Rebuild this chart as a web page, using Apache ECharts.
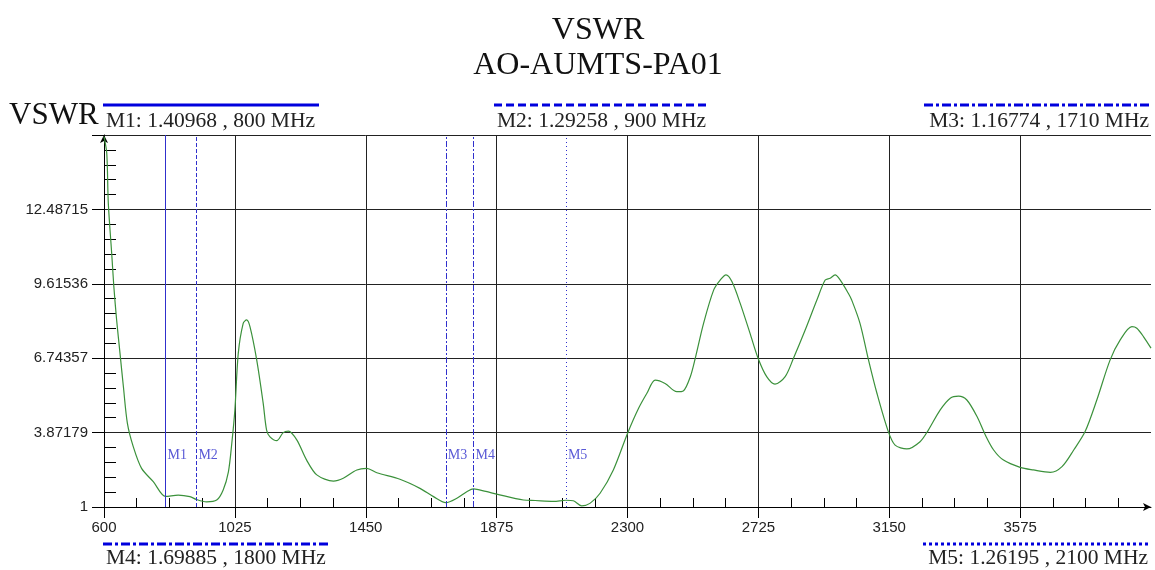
<!DOCTYPE html>
<html><head><meta charset="utf-8">
<script src="https://cdn.jsdelivr.net/npm/echarts@6/dist/echarts.min.js"></script>
<style>html,body{margin:0;padding:0;background:#fff}#c{width:1155px;height:570px}</style>
</head><body><div id="c"></div>
<script>
const titleLines = ['VSWR', 'AO-AUMTS-PA01'];
const yAxisName = 'VSWR';

const freqs = [600,609,614,625,632,641,652,663,676,695,722,760,800,841,879,900,933,966,987,1004,1015,1025,1036,1052,1063,1074,1096,1117,1128,1139,1161,1182,1199,1226,1258,1291,1345,1377,1421,1453,1486,1561,1626,1670,1710,1746,1778,1800,1840,1875,1962,2000,2060,2100,2124,2151,2178,2211,2254,2300,2336,2363,2390,2422,2460,2482,2504,2520,2547,2580,2601,2620,2639,2666,2698,2725,2752,2779,2812,2839,2877,2915,2942,2958,2974,2991,3017,3028,3055,3082,3110,3147,3169,3207,3250,3277,3315,3348,3375,3402,3435,3462,3489,3521,3575,3618,3673,3711,3749,3786,3824,3867,3900,3938,3954,3976,4000];
const vswr = [15.30,14.65,12.72,10.79,9.50,8.22,6.93,5.64,4.23,3.33,2.49,1.98,1.41,1.46,1.40,1.29,1.20,1.27,1.66,2.36,3.46,4.74,6.93,8.09,8.22,7.96,6.67,5.00,3.97,3.71,3.56,3.87,3.93,3.59,2.81,2.24,2.00,2.11,2.43,2.49,2.32,2.07,1.72,1.40,1.17,1.34,1.59,1.70,1.60,1.50,1.27,1.25,1.22,1.26,1.24,1.04,1.14,1.53,2.43,3.84,4.81,5.39,5.90,5.77,5.45,5.49,6.03,6.74,8.09,9.38,9.76,9.96,9.70,8.86,7.70,6.71,6.03,5.74,6.03,6.74,7.83,8.99,9.76,9.83,9.96,9.76,9.25,8.99,8.09,6.71,5.39,3.91,3.39,3.24,3.52,3.97,4.74,5.20,5.28,5.13,4.49,3.78,3.20,2.81,2.53,2.43,2.34,2.56,3.20,3.91,5.13,6.67,7.45,7.96,7.90,7.57,7.13];

const xMin = 600, xMax = 4000, xInterval = 425;
const yMin = 1, yInterval = 2.87179, ySplits = 5;
const yTickLabels = ['1', '3.87179', '6.74357', '9.61536', '12.48715', ''];

const markerNames = ['M1', 'M2', 'M3', 'M4', 'M5'];
const markerFreqs = [800, 900, 1710, 1800, 2100];
const markerValues = ['1.40968', '1.29258', '1.16774', '1.69885', '1.26195'];
const markerLabelLevel = 3.0;

const yMax = yMin + ySplits * yInterval;
const markerDash = ['solid', [4, 2], [6, 2, 2, 2], [6, 2, 2, 2], [1, 3]];
const legendDash = [null, [8, 4], [9, 3, 3, 3], [9, 3, 3, 3], [3, 3]];
const legendText = i => markerNames[i] + ': ' + markerValues[i] + ' , ' + markerFreqs[i] + ' MHz';
const serif = '"Liberation Serif", "Times New Roman", serif';
const sans = '"Liberation Sans", Arial, sans-serif';
const blue = '#0000dd';
const markBlue = '#3030cc';

// legend layout: [x1, x2, lineY, textX, textY, align]
const legendLayout = [
  [103, 319, 105, 106, 121, 'left'],
  [494, 709, 105, 497, 121, 'left'],
  [924, 1150, 105, 1149, 121, 'right'],
  [103, 330, 544, 106, 558, 'left'],
  [923, 1148, 544, 1148, 558, 'right']
];

const graphics = [];
titleLines.forEach((t, i) => {
  graphics.push({type: 'text', style: {text: t, x: 598, y: 31 + i * 35, font: '32px ' + serif, fill: '#111',
    textAlign: 'center', align: 'center', textVerticalAlign: 'middle', verticalAlign: 'middle'}});
});
graphics.push({type: 'text', style: {text: yAxisName, x: 9, y: 116, font: '31px ' + serif, fill: '#111',
  textAlign: 'left', align: 'left', textVerticalAlign: 'middle', verticalAlign: 'middle'}});
legendLayout.forEach((L, i) => {
  graphics.push({type: 'line', shape: {x1: L[0], y1: L[2], x2: L[1], y2: L[2]},
    style: {stroke: blue, lineWidth: 3, lineDash: legendDash[i] || null}});
  graphics.push({type: 'text', style: {text: legendText(i), x: L[3], y: L[4], font: '21.5px ' + serif, fill: '#222',
    textAlign: L[5], align: L[5], textVerticalAlign: 'middle', verticalAlign: 'middle'}});
});

const chart = echarts.init(document.getElementById('c'), null, {renderer: 'canvas'});
const axisBlack = {color: '#000', width: 1};
chart.setOption({
  animation: false,
  backgroundColor: '#fff',
  grid: {left: 104, right: 4, top: 135, bottom: 63},
  xAxis: [{
    type: 'value', min: xMin, max: xMax, interval: xInterval, position: 'bottom',
    axisLine: {onZero: false, lineStyle: axisBlack, symbol: ['none', 'arrow'], symbolSize: [6, 8]},
    axisTick: {length: 11, lineStyle: axisBlack},
    axisLabel: {fontFamily: sans, fontSize: 15, color: '#222', margin: 13, showMaxLabel: false,
      formatter: v => String(v)},
    splitLine: {show: true, showMaxLine: false, lineStyle: {color: '#222', width: 1}}
  }, {
    type: 'value', min: xMin, max: xMax, interval: xInterval, position: 'bottom',
    axisLine: {show: false, onZero: false}, axisTick: {show: false, inside: true},
    minorTick: {show: true, splitNumber: 4, length: 9, lineStyle: axisBlack},
    axisLabel: {show: false}, splitLine: {show: false}
  }],
  yAxis: [{
    type: 'value', min: yMin, max: yMax, interval: yInterval, position: 'left',
    axisLine: {onZero: false, lineStyle: axisBlack, symbol: ['none', 'arrow'], symbolSize: [6, 8]},
    axisTick: {length: 12, lineStyle: axisBlack},
    axisLabel: {fontFamily: sans, fontSize: 15, color: '#222', margin: 16,
      formatter: v => { const k = Math.round((v - yMin) / yInterval); return yTickLabels[k] !== undefined ? yTickLabels[k] : ''; }},
    splitLine: {show: true, lineStyle: {color: '#222', width: 1}}
  }, {
    type: 'value', min: yMin, max: yMax, interval: yInterval, position: 'left',
    axisLine: {show: false, onZero: false}, axisTick: {show: false, inside: true},
    minorTick: {show: true, splitNumber: 5, length: 12, lineStyle: axisBlack},
    axisLabel: {show: false}, splitLine: {show: false}
  }],
  series: [{
    type: 'line', xAxisIndex: 0, yAxisIndex: 0,
    data: freqs.map((f, i) => [f, vswr[i]]),
    symbol: 'none', smooth: 0.3,
    lineStyle: {color: '#3b913b', width: 1.2},
    markLine: {
      symbol: 'none', silent: true, animation: false, label: {show: false},
      data: markerFreqs.map((f, i) => ({xAxis: f, lineStyle: {color: markBlue, width: 1, type: markerDash[i]}}))
    },
    z: 3
  }, {
    type: 'scatter', xAxisIndex: 0, yAxisIndex: 0,
    data: markerFreqs.map(f => [f, markerLabelLevel]),
    symbolSize: 0, silent: true,
    label: {show: true, position: 'right', distance: 2, color: markBlue, fontFamily: serif, fontSize: 14,
      formatter: p => markerNames[p.dataIndex]},
    z: 4
  }],
  graphic: graphics
});
</script></body></html>
